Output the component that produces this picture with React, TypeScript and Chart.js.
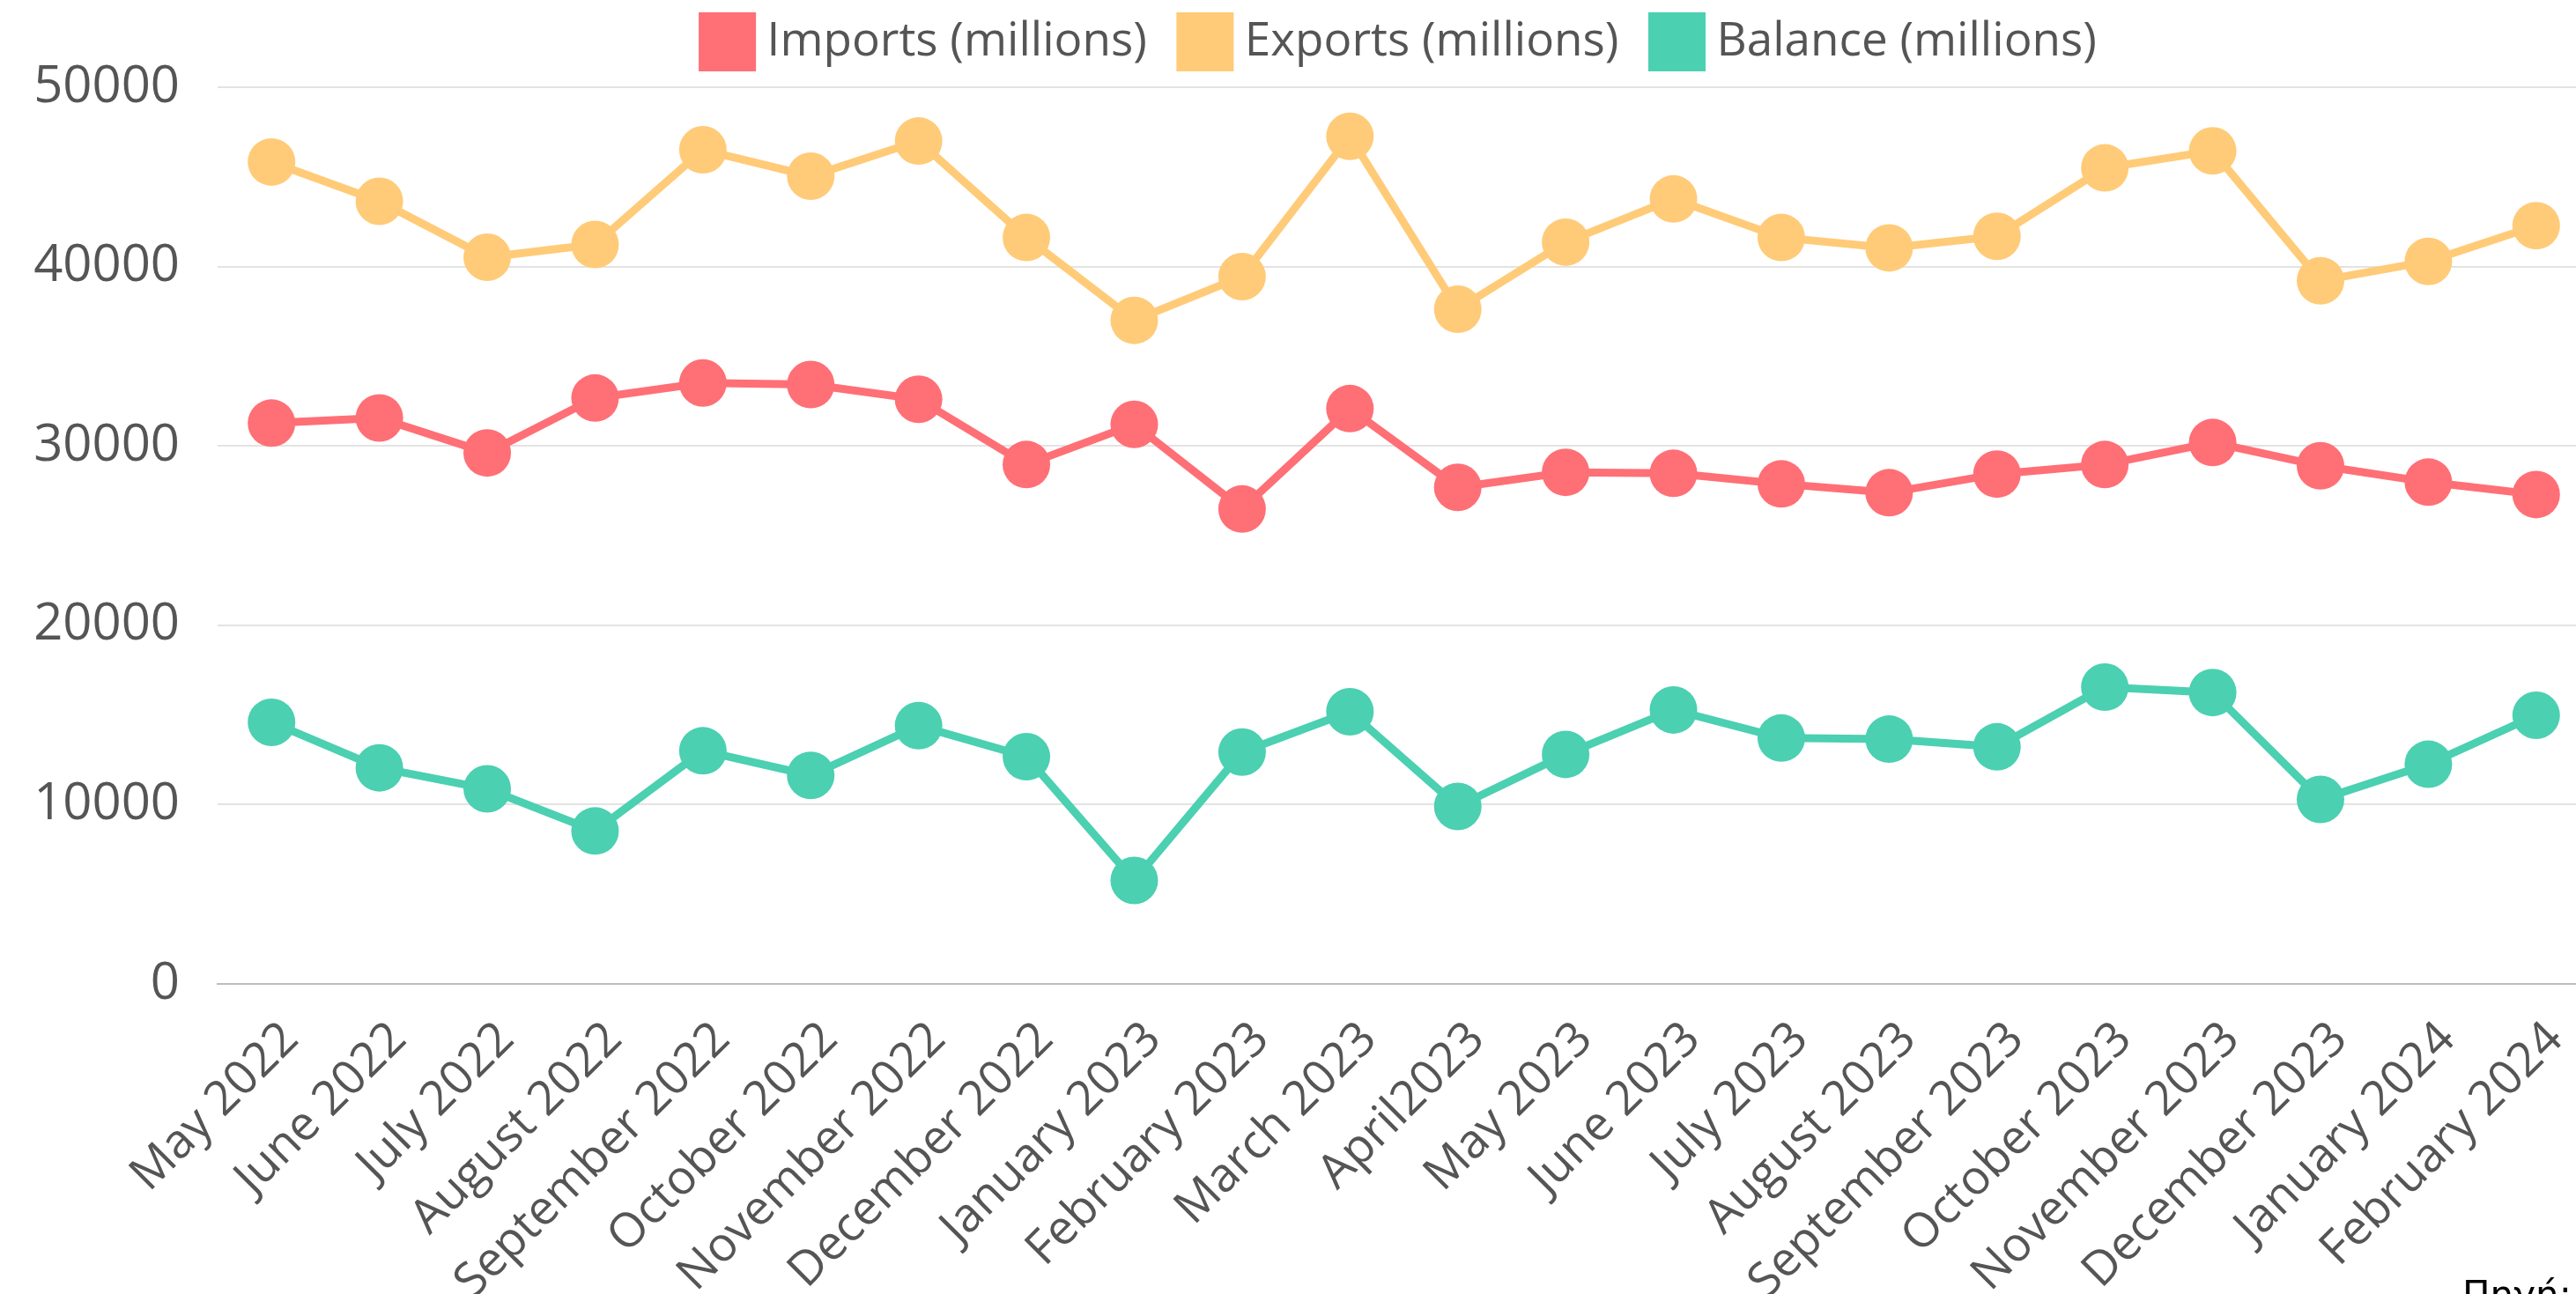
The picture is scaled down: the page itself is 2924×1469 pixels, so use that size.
import React, { useEffect, useRef } from "react";
import { Chart, registerables } from "chart.js";

Chart.register(...registerables);

const categories = [
  "May 2022", "June 2022", "July 2022", "August 2022", "September 2022", "October 2022",
  "November 2022", "December 2022", "January 2023", "February 2023", "March 2023", "April2023",
  "May 2023", "June 2023", "July 2023", "August 2023", "September 2023", "October 2023",
  "November 2023", "December 2023", "January 2024", "February 2024",
];

const imports = [
  31270, 31560, 29610, 32670, 33510, 33420, 32600, 28960, 31200, 26480, 32080, 27690,
  28530, 28470, 27880, 27390, 28430, 28960, 30190, 28890, 27980, 27290,
];

const exports = [
  45830, 43640, 40520, 41230, 46510, 45040, 47000, 41620, 37000, 39440, 47260, 37620,
  41360, 43770, 41620, 41040, 41690, 45500, 46450, 39210, 40290, 42280,
];

const balance = [
  14590, 12050, 10880, 8530, 13000, 11630, 14400, 12670, 5770, 12930, 15180, 9900,
  12800, 15280, 13710, 13650, 13220, 16550, 16250, 10290, 12250, 14980,
];

const seriesLabels = ["Imports (millions)", "Exports (millions)", "Balance (millions)"];
const seriesColors = ["#FF6F76", "#FFCB78", "#4BD0B1"];
const yTicks = [0, 10000, 20000, 30000, 40000, 50000];

const FONT = "'Open Sans', sans-serif";
const POINT_R = 27;
const CANVAS_W = 2940 + POINT_R;
const CANVAS_H = 1469;
const LEGEND_UP = 15;

const legendNudge = {
  id: "legendNudge",
  afterLayout(chart: any) {
    const l = chart.legend;
    if (l) {
      l.top -= LEGEND_UP;
      l.bottom -= LEGEND_UP;
    }
  },
};

export default function App() {
  const ref = useRef<HTMLCanvasElement | null>(null);

  useEffect(() => {
    const canvas = ref.current;
    if (!canvas) return;
    const values = [imports, exports, balance];
    const chart = new Chart(canvas, {
      type: "line",
      data: {
        labels: categories,
        datasets: values.map((d, i) => ({
          label: seriesLabels[i],
          data: d,
          borderColor: seriesColors[i],
          backgroundColor: seriesColors[i],
          pointBackgroundColor: seriesColors[i],
          pointBorderColor: seriesColors[i],
          pointBorderWidth: 0,
          pointRadius: POINT_R,
          pointHoverRadius: POINT_R,
          borderWidth: 9,
          tension: 0,
          fill: false,
        })),
      },
      plugins: [legendNudge],
      options: {
        animation: false,
        responsive: false,
        devicePixelRatio: 1,
        layout: { padding: { left: 28, top: 0, right: 0, bottom: 0 } },
        plugins: {
          legend: {
            position: "top",
            fullSize: false,
            labels: {
              font: { family: FONT, size: 53 },
              color: "#555555",
              boxWidth: 37,
              boxHeight: 39,
              padding: 20,
              generateLabels: (c: any) =>
                Chart.defaults.plugins.legend.labels.generateLabels(c).map((item: any, i: number) => ({
                  ...item,
                  text: i < seriesLabels.length - 1 ? item.text + "  " : item.text,
                  lineWidth: 28,
                  strokeStyle: seriesColors[i],
                  fillStyle: seriesColors[i],
                })),
            },
          },
          tooltip: { enabled: false },
        },
        scales: {
          x: {
            type: "category",
            offset: true,
            grid: { display: false, drawTicks: false },
            border: { display: true, color: "#bdbdbd", width: 2 },
            ticks: {
              font: { family: FONT, size: 54, lineHeight: 1 },
              color: "#555555",
              minRotation: 45,
              maxRotation: 45,
              autoSkip: false,
              padding: 35,
              labelOffset: 22,
            },
            afterFit: (scale: any) => {
              scale.height = 352;
            },
          },
          y: {
            min: 0,
            max: 50000,
            afterBuildTicks: (scale: any) => {
              scale.ticks = yTicks.map((v) => ({ value: v }));
            },
            grid: { color: "#e3e3e3", lineWidth: 2, drawTicks: false },
            border: { display: false },
            ticks: {
              font: { family: FONT, size: 58 },
              color: "#555555",
              padding: 43,
              callback: (v: any) => String(v),
            },
            afterFit: (scale: any) => {
              scale.width = 219;
              scale.paddingTop = 99;
            },
          },
        },
      },
    });
    return () => chart.destroy();
  }, []);

  return (
    <div
      style={{
        position: "fixed",
        left: 0,
        top: 0,
        width: "100vw",
        height: "100vh",
        overflow: "hidden",
        background: "#ffffff",
      }}
    >
      <canvas
        ref={ref}
        width={CANVAS_W}
        height={CANVAS_H}
        style={{ position: "absolute", left: 0, top: 0, width: CANVAS_W, height: CANVAS_H }}
      />
      <div
        style={{
          position: "absolute",
          left: 2795,
          top: 1449,
          fontFamily: "'DejaVu Sans', sans-serif",
          fontSize: 42,
          lineHeight: "42px",
          color: "#000000",
          whiteSpace: "nowrap",
        }}
      >
        Πηγή:
      </div>
    </div>
  );
}
